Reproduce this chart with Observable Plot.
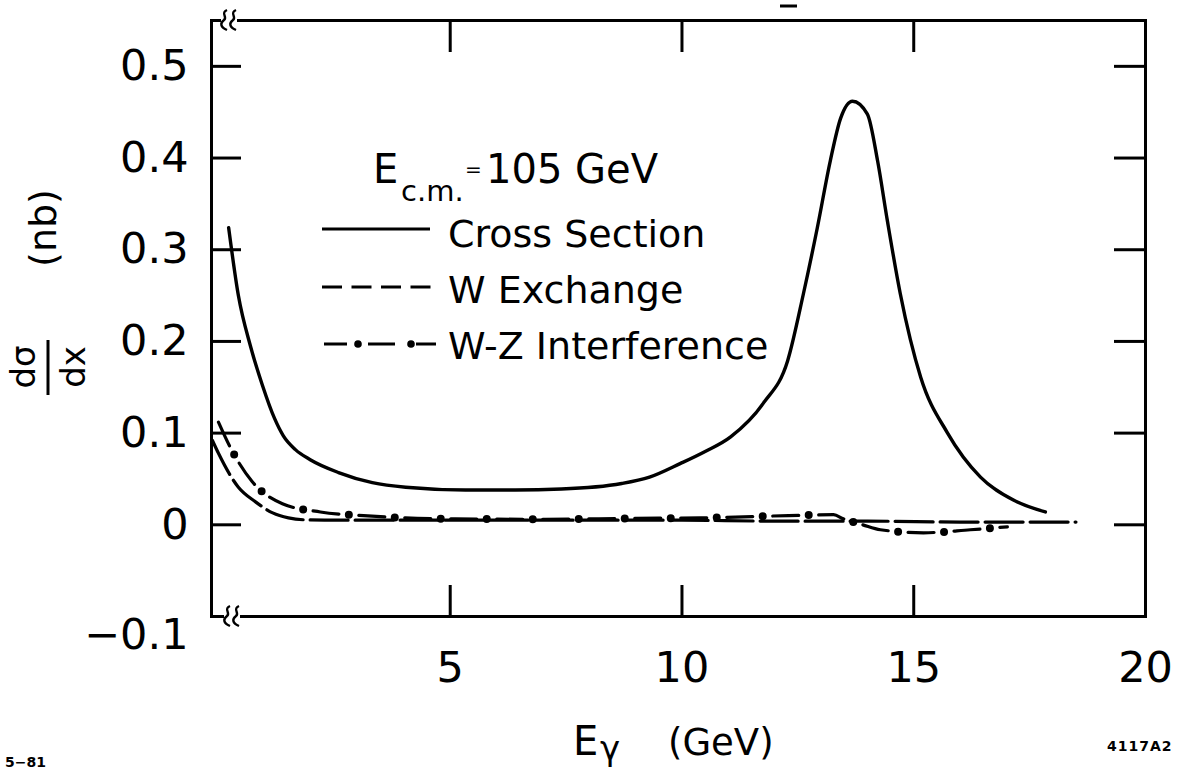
<!DOCTYPE html>
<html><head><meta charset="utf-8">
<script src="https://cdn.jsdelivr.net/npm/d3@7"></script>
<script src="https://cdn.jsdelivr.net/npm/@observablehq/plot@0.6"></script>
<style>
html,body{margin:0;padding:0;background:#fff;}
#chart{position:relative;width:1185px;height:770px;overflow:hidden;}
</style></head><body><div id="chart"></div>
<script>
// ---- data ----
const crossX = [0.22,0.43,0.69,0.95,1.21,1.4,1.66,1.98,2.59,3.32,4.04,5.33,6.4,7.4,8.7,9.3,9.97,10.5,11.05,11.76,12.28,12.62,12.92,13.2,13.42,13.68,14.0,14.22,14.43,14.71,15.15,15.73,16.44,17.15,17.84];
const crossY = [0.324,0.250,0.195,0.152,0.116,0.097,0.082,0.071,0.057,0.046,0.041,0.038,0.038,0.039,0.045,0.052,0.067,0.080,0.096,0.133,0.179,0.252,0.324,0.397,0.443,0.462,0.448,0.397,0.332,0.252,0.161,0.100,0.052,0.027,0.014];
const wExX = [-0.13,0,0.43,0.8,1.17,1.51,1.88,2.6,4,6,8,10,12,14,16,18.5];
const wExY = [0.092,0.078,0.041,0.025,0.013,0.0076,0.0054,0.005,0.005,0.005,0.005,0.005,0.004,0.004,0.003,0.003];
const wzX = [0,0.26,0.73,1.38,2.2,3.13,4.03,5.11,7,9,10.4,12.3,13.27,13.48,13.9,14.28,15.21,16.22,17.02];
const wzY = [0.112,0.084,0.047,0.023,0.014,0.010,0.0076,0.0065,0.006,0.007,0.0076,0.010,0.011,0.0065,0.0,-0.0054,-0.0087,-0.0054,-0.0022];

const xTickLabels = [5,10,15,20];
const xTickMarks = [5,10,15];
const yTicks = [0,0.1,0.2,0.3,0.4,0.5];
const yLowTick = [-0.1];
const seriesNames = ["Cross Section","W Exchange","W-Z Interference"];
const ecmText = {E: "E", sub: "c.m.", eq: "=", val: "105 GeV"};
const xLabel = {main: "E", sub: "γ", unit: "(GeV)"};
const yLabel = {num: "dσ", den: "dx", unit: "(nb)"};
const notes = {left: "5−81", right: "4117A2"};

const rows = (xs, ys) => xs.map((x, i) => ({x, y: ys[i]}));
const cross = rows(crossX, crossY);
const wex = rows(wExX, wExY);
const wz = rows(wzX, wzY);

const FONT = "'DejaVu Sans', sans-serif";
const yFmt = d => d === 0 ? "0" : d3.format(".1f")(d);

const svg = Plot.plot({
  width: 1185, height: 770,
  marginLeft: 211, marginRight: 40, marginTop: 20, marginBottom: 154,
  x: {domain: [-0.15, 20]},
  y: {domain: [-0.1, 0.55]},
  style: {fontFamily: FONT, color: "#000", background: "#fff", overflow: "visible"},
  marks: [
    Plot.frame({stroke: "#000", strokeWidth: 3}),
    // inward tick marks on all four sides
    Plot.axisX({anchor: "bottom", ticks: xTickMarks, tickSize: -31, fill: "none", strokeWidth: 3}),
    Plot.axisX({anchor: "top", ticks: xTickMarks, tickSize: -31, fill: "none", strokeWidth: 3}),
    Plot.axisY({anchor: "left", ticks: yTicks, tickSize: -30, fill: "none", strokeWidth: 3}),
    Plot.axisY({anchor: "right", ticks: yTicks, tickSize: -32, fill: "none", strokeWidth: 3}),
    // tick labels
    Plot.axisX({anchor: "bottom", ticks: xTickLabels, tickSize: 0, tickPadding: 35, fontSize: 43, label: null, tickFormat: d => String(d)}),
    Plot.axisY({anchor: "left", ticks: yTicks, tickSize: 0, tickPadding: 23, fontSize: 43, label: null, tickFormat: yFmt}),
    Plot.axisY({anchor: "left", ticks: yLowTick, tickSize: 0, tickPadding: 23, fontSize: 43, label: null, tickFormat: yFmt, dy: 19}),
    // curves
    Plot.line(cross, {x: "x", y: "y", curve: "monotone-x", stroke: "#000", strokeWidth: 3.4}),
    Plot.line(wex, {x: "x", y: "y", curve: "monotone-x", stroke: "#000", strokeWidth: 3.2, strokeDasharray: "38 7"}),
    Plot.line(wz, {x: "x", y: "y", curve: "monotone-x", stroke: "#000", strokeWidth: 3.2, strokeDasharray: "26 20"}),
    Plot.line(wz, {x: "x", y: "y", curve: "monotone-x", stroke: "#000", strokeWidth: 8, strokeDasharray: "0 46", strokeDashoffset: 10, strokeLinecap: "round"})
  ]
});
document.getElementById("chart").appendChild(svg);

// ---- annotations: legend, axis titles, break marks, notes ----
const s = d3.select(svg);
const g = s.append("g").attr("font-family", FONT).attr("fill", "#000").attr("text-anchor", "start");

// axis break marks at the left end of the horizontal frame lines
function brk(x0, x1, y) {
  g.append("rect").attr("x", x0).attr("y", y - 3).attr("width", x1 - x0).attr("height", 6).attr("fill", "#fff");
  [x0 + 3, x1 - 4].forEach(cx => {
    g.append("path")
      .attr("d", `M${cx + 3},${y - 10} C${cx - 4},${y - 7} ${cx + 4},${y - 3} ${cx},${y} S${cx - 4},${y + 7} ${cx + 3},${y + 10}`)
      .attr("fill", "none").attr("stroke", "#000").attr("stroke-width", 2.4);
  });
}
brk(221, 237, 20);
brk(224, 240, 616);

// small mark above the frame
g.append("line").attr("x1", 780).attr("x2", 797).attr("y1", 6).attr("y2", 6).attr("stroke", "#000").attr("stroke-width", 3);

// E_c.m. = 105 GeV
const t0 = g.append("text").attr("font-size", 40);
t0.append("tspan").attr("x", 373).attr("y", 183).text(ecmText.E);
t0.append("tspan").attr("x", 401).attr("y", 201).attr("font-size", 29).text(ecmText.sub);
t0.append("tspan").attr("x", 465).attr("y", 176).attr("font-size", 20).text(ecmText.eq);
t0.append("tspan").attr("x", 486).attr("y", 183).text(ecmText.val);

// legend samples
const lg = g.append("g").attr("stroke", "#000").attr("fill", "none");
lg.append("line").attr("x1", 322).attr("x2", 430).attr("y1", 229).attr("y2", 229).attr("stroke-width", 3.2);
lg.append("line").attr("x1", 322).attr("x2", 432).attr("y1", 287).attr("y2", 287).attr("stroke-width", 3.2).attr("stroke-dasharray", "20 9.5");
lg.append("line").attr("x1", 324).attr("x2", 436).attr("y1", 344).attr("y2", 344).attr("stroke-width", 3.2).attr("stroke-dasharray", "23 21 27 21 27");
[358, 411].forEach(cx => g.append("circle").attr("cx", cx).attr("cy", 344).attr("r", 3.8));
const legY = [247, 303, 359];
seriesNames.forEach((n, i) => g.append("text").attr("x", 448).attr("y", legY[i]).attr("font-size", 38).text(n));

// x-axis title
g.append("text").attr("x", 573).attr("y", 755).attr("font-size", 40).text(xLabel.main);
g.append("text").attr("x", 600).attr("y", 760).attr("font-size", 34).text(xLabel.sub);
g.append("text").attr("x", 668).attr("y", 755).attr("font-size", 37).text(xLabel.unit);

// y-axis title (rotated)
g.append("text").attr("transform", "translate(43,228) rotate(-90)").attr("text-anchor", "middle").attr("dy", "0.35em").attr("font-size", 38).text(yLabel.unit);
g.append("text").attr("transform", "translate(22,367) rotate(-90)").attr("text-anchor", "middle").attr("dy", "0.38em").attr("font-size", 34).text(yLabel.num);
g.append("line").attr("x1", 48).attr("x2", 48).attr("y1", 340).attr("y2", 395).attr("stroke", "#000").attr("stroke-width", 3);
g.append("text").attr("transform", "translate(72,367) rotate(-90)").attr("text-anchor", "middle").attr("dy", "0.38em").attr("font-size", 34).text(yLabel.den);

// plate notes
g.append("text").attr("x", 5).attr("y", 767).attr("font-size", 14).attr("font-weight", "bold").text(notes.left);
g.append("text").attr("x", 1107).attr("y", 751).attr("font-size", 14).attr("font-weight", "bold").attr("letter-spacing", 1).text(notes.right);
</script>
</body></html>
